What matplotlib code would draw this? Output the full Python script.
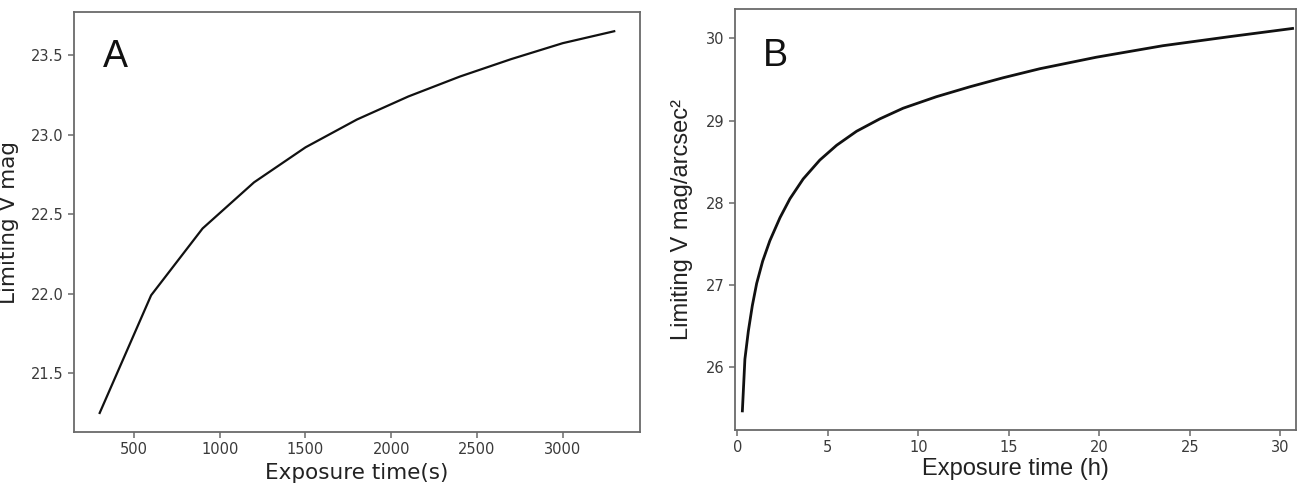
import matplotlib
matplotlib.use('Agg')
import matplotlib.pyplot as plt

# Panel A: limiting point-source magnitude vs exposure time (s)
exp_s = [300, 600, 900, 1200, 1500, 1800, 2100, 2400, 2700, 3000, 3300]
mag_a = [21.25, 21.99, 22.41, 22.70, 22.92, 23.095, 23.24, 23.365, 23.475, 23.575, 23.65]

# Panel B: limiting surface brightness vs exposure time (h)
exp_h = [0.28, 0.42, 0.61, 0.83, 1.07, 1.40, 1.80, 2.36, 2.91, 3.64, 4.56, 5.49,
         6.59, 7.87, 9.16, 11.0, 12.84, 14.68, 16.71, 19.83, 23.51, 27.19, 30.68]
mag_b = [25.47, 26.10, 26.44, 26.75, 27.02, 27.29, 27.54, 27.82, 28.05, 28.29, 28.52, 28.70,
         28.87, 29.02, 29.15, 29.29, 29.41, 29.52, 29.63, 29.77, 29.91, 30.02, 30.12]

ticks_a_x = [500, 1000, 1500, 2000, 2500, 3000]
ticks_a_y = [21.5, 22.0, 22.5, 23.0, 23.5]
ticks_b_x = [0, 5, 10, 15, 20, 25, 30]
ticks_b_y = [26, 27, 28, 29, 30]

spine_col = '#6a6a6a'
tick_col = '#3a3a3a'

fig = plt.figure(figsize=(13.02, 4.86), dpi=100)
axA = fig.add_axes([0.0568, 0.111, 0.4347, 0.864])
axB = fig.add_axes([0.5642, 0.1152, 0.4312, 0.8656])

for ax in (axA, axB):
    for s in ax.spines.values():
        s.set_color(spine_col)
        s.set_linewidth(1.3)
    ax.tick_params(colors=spine_col, labelcolor=tick_col, labelsize=10.5, width=1.1, length=4)

# --- A ---
axA.plot(exp_s, mag_a, color='#111111', lw=1.6)
axA.set_xticks(ticks_a_x)
axA.set_yticks(ticks_a_y)
axA.set_xlabel('Exposure time(s)', fontsize=15.5, color='#222222')
axA.set_ylabel('Limiting V mag', fontsize=15.5, color='#222222')
axA.yaxis.set_label_coords(-0.097, 0.5)
axA.text(0.051, 0.87, 'A', transform=axA.transAxes, fontsize=27,
         family='Liberation Sans', color='#111111')

# --- B ---
axB.plot(exp_h, mag_b, color='#111111', lw=2.0)
axB.set_xlim(-0.15, 30.87)
axB.set_xticks(ticks_b_x)
axB.set_yticks(ticks_b_y)
axB.set_xlabel('Exposure time (h)', fontsize=17, family='Liberation Sans',
               color='#222222', labelpad=2)
axB.set_ylabel('Limiting V mag/arcsec²', fontsize=17, family='Liberation Sans', color='#222222')
axB.yaxis.set_label_coords(-0.074, 0.5)
axB.text(0.051, 0.865, 'B', transform=axB.transAxes, fontsize=27,
         family='Liberation Sans', color='#111111')

fig.savefig('out.png', dpi=100)
